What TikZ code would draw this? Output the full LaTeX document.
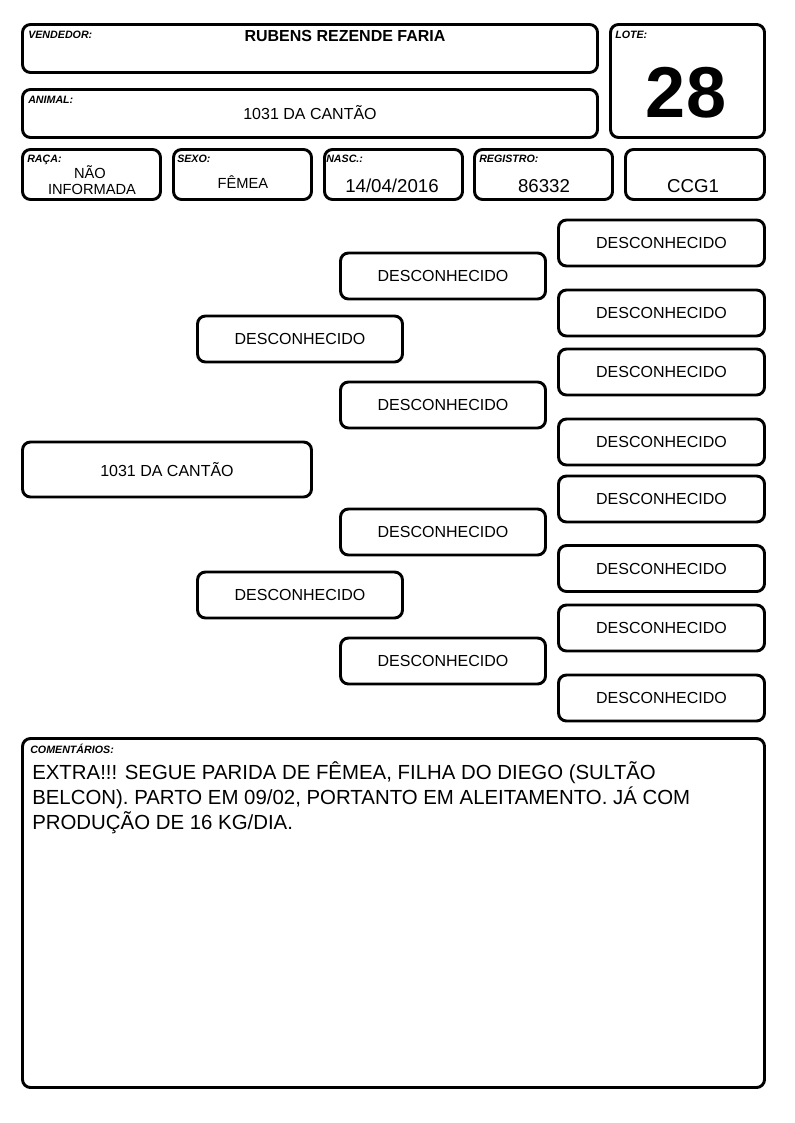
\documentclass[tikz,border=0pt]{standalone}
\usepackage{fontspec}
\setmainfont{Liberation Sans}
\usepackage{xcolor}
\usetikzlibrary{positioning}
\definecolor{ink}{HTML}{000000}
\definecolor{paper}{HTML}{FFFFFF}
\tikzset{
  cell/.style={draw=ink, line width=2.2pt, rounded corners=6pt, inner sep=0pt},
  sz/.style 2 args={minimum width=#1*0.75pt, minimum height=#2*0.75pt},
  tag/.style={anchor=base west, inner sep=0pt, text=ink, font=\fontsize{8}{9.6}\selectfont\bfseries\itshape},
  val/.style={anchor=base, inner sep=0pt, text=ink, font=\fontsize{11}{12}\selectfont},
  bigval/.style={anchor=base, inner sep=0pt, text=ink, font=\fontsize{14}{16.8}\selectfont},
  ped/.style={cell, text=ink, font=\fontsize{12}{14.4}\selectfont}
}

\begin{document}
\begin{tikzpicture}[x=0.75pt, y=-0.75pt]
  \fill[paper] (0,0) rectangle (794,1123);
  \useasboundingbox (0,0) rectangle (794,1123);

  % cabecalho
  \node[cell, sz={575}{48}] (vendedor) at (310,48.5) {};
  \node[tag] (vendedortag) at (28,38.5) {VENDEDOR:};
  \node[anchor=base, inner sep=0pt, font=\fontsize{12}{14.4}\selectfont\bfseries] (vendedorval) at (345,42) {RUBENS REZENDE FARIA};

  \node[cell, sz={154}{113}] (lote) at (687.5,81) {};
  \node[tag] (lotetag) at (615,39) {LOTE:};
  \node[anchor=base, inner sep=0pt, font=\fontsize{54}{60}\selectfont\bfseries] (loteval) at (686,118) {28};

  \node[cell, sz={575}{48}] (animal) at (310,113.5) {};
  \node[tag] (animaltag) at (28,103.5) {ANIMAL:};
  \node[anchor=base, inner sep=0pt, font=\fontsize{12}{14.4}\selectfont] (animalval) at (310,120) {1031 DA CANTÃO};

  \node[cell, sz={138}{50}] (raca) at (91.5,174.5) {};
  \node[tag] (racatag) at (27,163) {RAÇA:};
  \node[val] (racaval1) at (90,179) {NÃO};
  \node[val] (racaval2) at (92,195) {INFORMADA};

  \node[cell, sz={138}{50}] (sexo) at (242.5,174.5) {};
  \node[tag] (sexotag) at (177,163) {SEXO:};
  \node[val] (sexoval) at (243,189) {FÊMEA};

  \node[cell, sz={138}{50}] (nasc) at (393.5,174.5) {};
  \node[tag] (nasctag) at (326,163) {NASC.:};
  \node[bigval] (nascval) at (392,193) {14/04/2016};

  \node[cell, sz={138}{50}] (registro) at (543.5,174.5) {};
  \node[tag] (registrotag) at (479,163) {REGISTRO:};
  \node[bigval] (registroval) at (544,193) {86332};

  \node[cell, sz={139}{50}] (ccg) at (695,174.5) {};
  \node[bigval] (ccgval) at (693,193) {CCG1};

  % genealogia
  \node[ped, sz={289}{55}] (animalped) at (167,469.5) {1031 DA CANTÃO};

  \node[ped, sz={205}{46}] (pai) at (300,339) {DESCONHECIDO};
  \node[ped, sz={205}{46}] (mae) at (300,595) {DESCONHECIDO};

  \node[ped, sz={205}{46}] (avopp) at (443,276) {DESCONHECIDO};
  \node[ped, sz={205}{46}] (avopm) at (443,405) {DESCONHECIDO};
  \node[ped, sz={205}{46}] (avomp) at (443,532) {DESCONHECIDO};
  \node[ped, sz={205}{46}] (avomm) at (443,661) {DESCONHECIDO};

  \node[ped, sz={206}{46}] (bis1) at (661.5,243) {DESCONHECIDO};
  \node[ped, sz={206}{46}] (bis2) at (661.5,313) {DESCONHECIDO};
  \node[ped, sz={206}{46}] (bis3) at (661.5,372) {DESCONHECIDO};
  \node[ped, sz={206}{46}] (bis4) at (661.5,442) {DESCONHECIDO};
  \node[ped, sz={206}{46}] (bis5) at (661.5,499) {DESCONHECIDO};
  \node[ped, sz={206}{46}] (bis6) at (661.5,568.5) {DESCONHECIDO};
  \node[ped, sz={206}{46}] (bis7) at (661.5,628) {DESCONHECIDO};
  \node[ped, sz={206}{46}] (bis8) at (661.5,698) {DESCONHECIDO};

  % comentarios
  \node[cell, sz={742}{349}] (comentarios) at (393.5,913) {};
  \node[tag] (comentariostag) at (30,753.5) {COMENTÁRIOS:};
  \node[anchor=base west, inner sep=0pt, align=left, text=ink, font=\fontsize{15.3}{18.4}\selectfont] (comentariosval) at (32,829)
    {EXTRA!!! SEGUE PARIDA DE FÊMEA, FILHA DO DIEGO (SULTÃO\\BELCON). PARTO EM 09/02, PORTANTO EM ALEITAMENTO. JÁ COM\\PRODUÇÃO DE 16 KG/DIA.};
\end{tikzpicture}
\end{document}
